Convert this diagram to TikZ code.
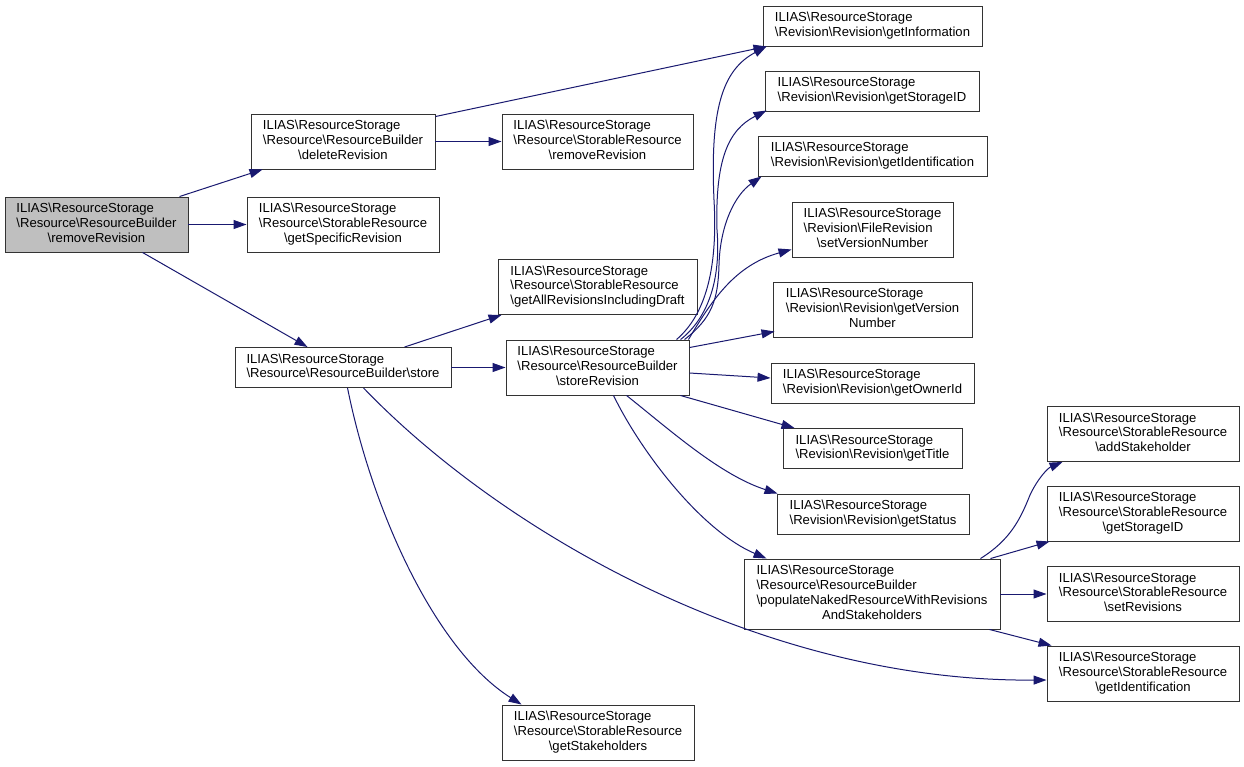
\documentclass[tikz,border=0pt]{standalone}
\usepackage{fontspec}
\setmainfont{Liberation Sans}
\usetikzlibrary{arrows.meta}
\definecolor{edgeblue}{RGB}{25,25,112}
\definecolor{rootgray}{RGB}{191,191,191}
\newcommand\bs{\textbackslash}
\newcommand\lns[2]{\begin{tabular}{@{}l@{}}#1\\\multicolumn{1}{@{}c@{}}{#2}\end{tabular}}
\begin{document}
\begin{tikzpicture}[x=1pt,y=-1pt,
  font=\fontsize{13.1}{14.7}\selectfont,
  box/.style={draw=black!80, line width=0.95pt, fill=white, inner sep=0pt, anchor=center},
  rootbox/.style={box, fill=rootgray},
  edge/.style={draw=edgeblue, line width=1pt, -{Triangle[length=13pt,width=9pt]}}]
\useasboundingbox[fill=white] (0,0) rectangle (1244,766);
% nodes
\node[rootbox, minimum width=183pt, minimum height=55pt] (rr) at (96.5,224.5) {\lns{ILIAS\bs ResourceStorage\\\bs Resource\bs ResourceBuilder}{\bs removeRevision}};
\node[box, minimum width=184pt, minimum height=55pt] (del) at (343,141.5) {\lns{ILIAS\bs ResourceStorage\\\bs Resource\bs ResourceBuilder}{\bs deleteRevision}};
\node[box, minimum width=192pt, minimum height=55pt] (gsr) at (343,224.5) {\lns{ILIAS\bs ResourceStorage\\\bs Resource\bs StorableResource}{\bs getSpecificRevision}};
\node[box, minimum width=216pt, minimum height=40pt] (st) at (343,367.5) {\lns{ILIAS\bs ResourceStorage}{\bs Resource\bs ResourceBuilder\bs store}};
\node[box, minimum width=219pt, minimum height=40pt] (ginf) at (872.5,26) {\lns{ILIAS\bs ResourceStorage}{\bs Revision\bs Revision\bs getInformation}};
\node[box, minimum width=191pt, minimum height=55pt] (srm) at (597.5,141.5) {\lns{ILIAS\bs ResourceStorage\\\bs Resource\bs StorableResource}{\bs removeRevision}};
\node[box, minimum width=214pt, minimum height=40pt] (gsid) at (872,91) {\lns{ILIAS\bs ResourceStorage}{\bs Revision\bs Revision\bs getStorageID}};
\node[box, minimum width=229pt, minimum height=40pt] (gid) at (872.5,156) {\lns{ILIAS\bs ResourceStorage}{\bs Revision\bs Revision\bs getIdentification}};
\node[box, minimum width=161pt, minimum height=55pt] (svn) at (872.5,229.5) {\lns{ILIAS\bs ResourceStorage\\\bs Revision\bs FileRevision}{\bs setVersionNumber}};
\node[box, minimum width=199pt, minimum height=55pt] (gar) at (597.5,287) {\lns{ILIAS\bs ResourceStorage\\\bs Resource\bs StorableResource}{\bs getAllRevisionsIncludingDraft}};
\node[box, minimum width=199pt, minimum height=55pt] (gvn) at (872.5,309.5) {\lns{ILIAS\bs ResourceStorage\\\bs Revision\bs Revision\bs getVersion}{Number}};
\node[box, minimum width=183pt, minimum height=55pt] (srev) at (597.5,367.5) {\lns{ILIAS\bs ResourceStorage\\\bs Resource\bs ResourceBuilder}{\bs storeRevision}};
\node[box, minimum width=203pt, minimum height=40pt] (goi) at (872.5,383) {\lns{ILIAS\bs ResourceStorage}{\bs Revision\bs Revision\bs getOwnerId}};
\node[box, minimum width=179pt, minimum height=40pt] (gt) at (872.5,448.5) {\lns{ILIAS\bs ResourceStorage}{\bs Revision\bs Revision\bs getTitle}};
\node[box, minimum width=192pt, minimum height=40pt] (gs) at (873,514) {\lns{ILIAS\bs ResourceStorage}{\bs Revision\bs Revision\bs getStatus}};
\node[box, minimum width=256pt, minimum height=70pt] (pop) at (872,594) {\lns{ILIAS\bs ResourceStorage\\\bs Resource\bs ResourceBuilder\\\bs populateNakedResourceWithRevisions}{AndStakeholders}};
\node[box, minimum width=192pt, minimum height=55pt] (ash) at (1143,434) {\lns{ILIAS\bs ResourceStorage\\\bs Resource\bs StorableResource}{\bs addStakeholder}};
\node[box, minimum width=192pt, minimum height=55pt] (ssid) at (1143,513.5) {\lns{ILIAS\bs ResourceStorage\\\bs Resource\bs StorableResource}{\bs getStorageID}};
\node[box, minimum width=192pt, minimum height=55pt] (srv) at (1143,594) {\lns{ILIAS\bs ResourceStorage\\\bs Resource\bs StorableResource}{\bs setRevisions}};
\node[box, minimum width=192pt, minimum height=55pt] (sgid) at (1143,673.5) {\lns{ILIAS\bs ResourceStorage\\\bs Resource\bs StorableResource}{\bs getIdentification}};
\node[box, minimum width=192pt, minimum height=55pt] (gsh) at (598,732.5) {\lns{ILIAS\bs ResourceStorage\\\bs Resource\bs StorableResource}{\bs getStakeholders}};
% edges
\draw[edge] ([xshift=175pt]rr.north west) -- ([xshift=12pt]del.south west);
\draw[edge] (rr.east) -- (gsr.west);
\draw[edge] ([xshift=138pt]rr.south west) -- ([xshift=73pt]st.north west);
\draw[edge] ([yshift=-3pt]del.north east) -- ([xshift=4pt]ginf.south west);
\draw[edge] (del.east) -- (srm.west);
\draw[edge] ([xshift=170pt]st.north west) -- ([xshift=4pt]gar.south west);
\draw[edge] (st.east) -- (srev.west);
\draw[edge] ([xshift=113pt]st.south west) .. controls (372,510) and (435,650) .. ([xshift=20pt]gsh.north west);
\draw[edge] ([xshift=129pt]st.south west) .. controls (500,530) and (760,682) .. ([yshift=-6.5pt]sgid.west);
\draw[edge] ([xshift=171pt]srev.north west) .. controls (705,315) and (718,270) .. (714,200) .. controls (710,110) and (722,70) .. ([xshift=4pt]ginf.south west);
\draw[edge] ([xshift=175pt]srev.north west) .. controls (708,318) and (721,280) .. (717,230) .. controls (715,160) and (728,130) .. ([xshift=2pt,yshift=1pt]gsid.south west);
\draw[edge] ([xshift=179pt]srev.north west) .. controls (712,318) and (718,300) .. (719,265) .. controls (720,225) and (735,195) .. ([xshift=4pt]gid.south west);
\draw[edge] ([xshift=-1pt]srev.north east) .. controls (712,300) and (735,265) .. ([yshift=8pt]svn.south west);
\draw[edge] ([yshift=-8pt]srev.north east) -- ([xshift=2pt,yshift=6pt]gvn.south west);
\draw[edge] ([yshift=-5.5pt]srev.east) -- ([yshift=5pt]goi.west);
\draw[edge] ([xshift=-9pt]srev.south east) -- ([xshift=12pt]gt.north west);
\draw[edge] ([xshift=121pt]srev.south west) .. controls (670,430) and (720,475) .. ([xshift=1pt]gs.north west);
\draw[edge] ([xshift=108pt]srev.south west) .. controls (640,450) and (700,530) .. ([xshift=23pt]pop.north west);
\draw[edge] ([xshift=-20pt]pop.north east) .. controls (1010,540) and (1020,520) .. (1030,495) .. controls (1038,478) and (1048,468) .. ([xshift=16pt]ash.south west);
\draw[edge] ([xshift=-10pt]pop.north east) -- ([xshift=3pt]ssid.south west);
\draw[edge] (pop.east) -- (srv.west);
\draw[edge] ([xshift=-11pt]pop.south east) -- ([xshift=5pt]sgid.north west);
\end{tikzpicture}
\end{document}
